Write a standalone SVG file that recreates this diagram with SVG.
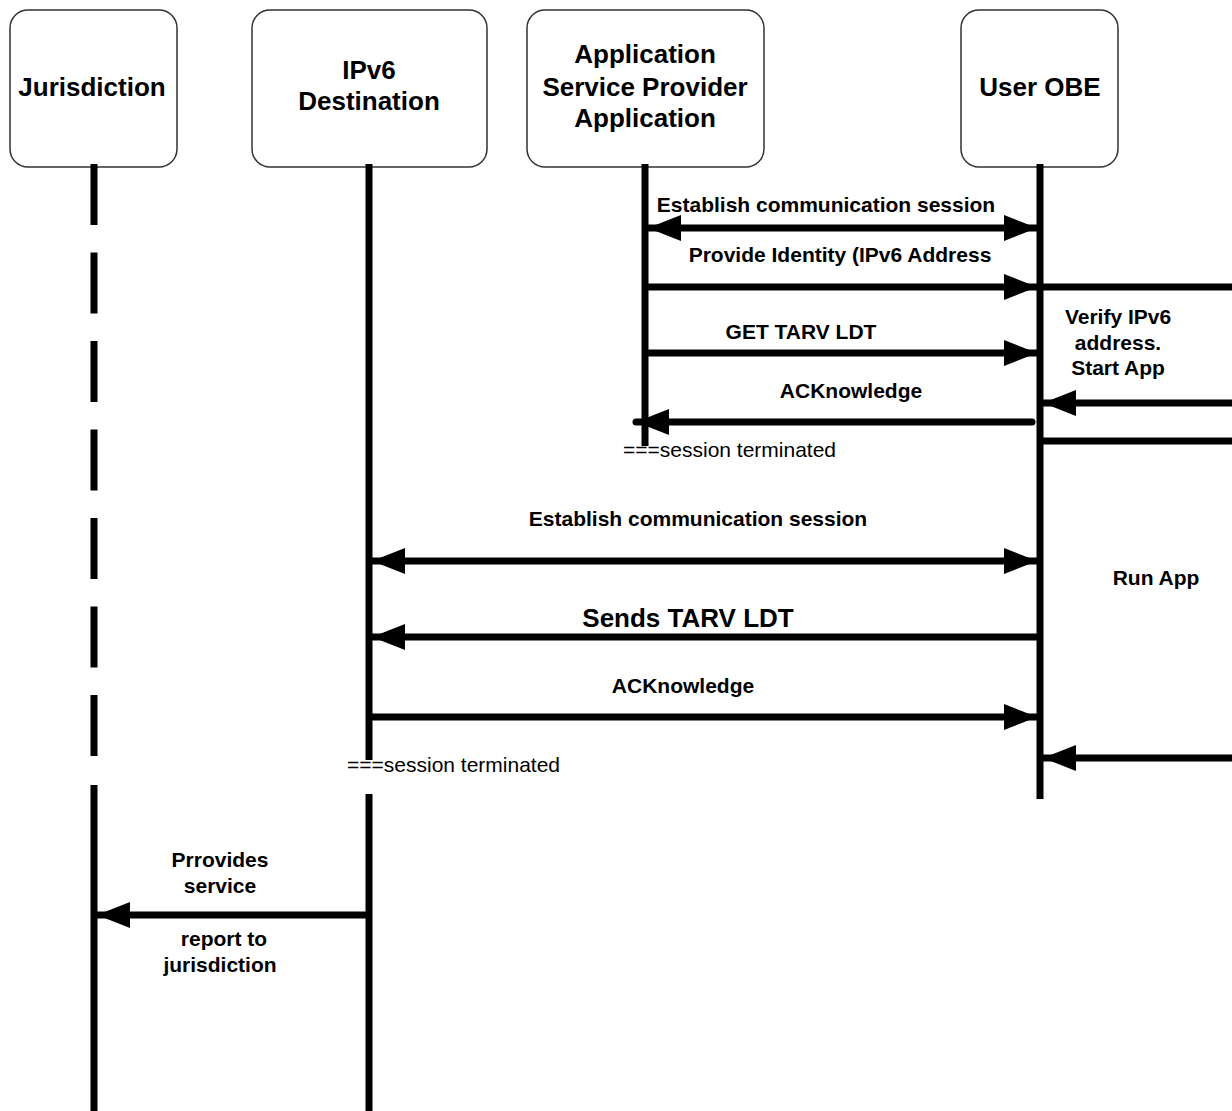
<svg xmlns="http://www.w3.org/2000/svg" width="1232" height="1111" viewBox="0 0 1232 1111">
<style>
.box{fill:#fff;stroke:#333;stroke-width:1.5}
.hd{font-family:"Liberation Sans",Arial,sans-serif;font-weight:bold;font-size:26px;fill:#000;text-anchor:middle}
.lb{font-family:"Liberation Sans",Arial,sans-serif;font-weight:bold;font-size:21px;fill:#000;text-anchor:middle}
.big{font-family:"Liberation Sans",Arial,sans-serif;font-weight:bold;font-size:26px;fill:#000;text-anchor:middle}
.st{font-family:"Liberation Sans",Arial,sans-serif;font-size:21px;fill:#000}
.life{stroke:#000;stroke-width:7;fill:none}
.msg{stroke:#000;stroke-width:7;fill:none}
.arr{marker-end:url(#ah)}
.dbl{marker-start:url(#ah);marker-end:url(#ah)}
</style>
<defs>
<marker id="ah" markerUnits="userSpaceOnUse" markerWidth="34" markerHeight="26" refX="33" refY="13" orient="auto-start-reverse">
<path d="M0,0 L33,13 L0,26 Z" fill="#000"/>
</marker>
</defs>
<rect width="1232" height="1111" fill="#fff"/>

<g id="jurisdiction">
<rect class="box" x="10" y="10" width="167" height="157" rx="18"/>
<text class="hd" x="92" y="96">Jurisdiction</text>
<line class="life" x1="94" y1="164" x2="94" y2="757" stroke-dasharray="61 27.5"/>
<line class="life" x1="94" y1="785" x2="94" y2="1111"/>
</g>

<g id="ipv6-destination">
<rect class="box" x="252" y="10" width="235" height="157" rx="18"/>
<text class="hd" x="369" y="79">IPv6</text>
<text class="hd" x="369" y="110">Destination</text>
<line class="life" x1="369" y1="164" x2="369" y2="760"/>
<line class="life" x1="369" y1="794" x2="369" y2="1111"/>
</g>

<g id="asp-application">
<rect class="box" x="527" y="10" width="237" height="157" rx="18"/>
<text class="hd" x="645" y="63">Application</text>
<text class="hd" x="645" y="96">Service Provider</text>
<text class="hd" x="645" y="127">Application</text>
<line class="life" x1="645" y1="164" x2="645" y2="446"/>
</g>

<g id="user-obe">
<rect class="box" x="961" y="10" width="157" height="157" rx="18"/>
<text class="hd" x="1040" y="96">User OBE</text>
<line class="life" x1="1040" y1="164" x2="1040" y2="799"/>
</g>

<g id="connectors">
<line class="msg dbl" x1="648" y1="228" x2="1037" y2="228"/>
<line class="msg arr" x1="648" y1="287" x2="1037" y2="287"/>
<line class="msg" x1="1040" y1="287" x2="1232" y2="287"/>
<line class="msg arr" x1="648" y1="353" x2="1037" y2="353"/>
<line class="msg arr" x1="1232" y1="403" x2="1043" y2="403"/>
<line class="msg arr" x1="1032" y1="422" x2="636" y2="422" stroke-linecap="round"/>
<line class="msg" x1="1040" y1="441" x2="1232" y2="441"/>
<line class="msg dbl" x1="372" y1="561" x2="1037" y2="561"/>
<line class="msg arr" x1="1037" y1="637" x2="372" y2="637"/>
<line class="msg arr" x1="372" y1="717" x2="1037" y2="717"/>
<line class="msg arr" x1="1232" y1="758" x2="1043" y2="758"/>
<line class="msg arr" x1="366" y1="915" x2="97" y2="915"/>
</g>

<g id="labels">
<text class="lb" x="826" y="212">Establish communication session</text>
<text class="lb" x="840" y="262">Provide Identity (IPv6 Address</text>
<text class="lb" x="801" y="339">GET TARV LDT</text>
<text class="lb" x="851" y="398">ACKnowledge</text>
<text class="st" x="623" y="457">===session terminated</text>
<text class="lb" x="1118" y="324">Verify IPv6</text>
<text class="lb" x="1118" y="350">address.</text>
<text class="lb" x="1118" y="375">Start App</text>
<text class="lb" x="698" y="526">Establish communication session</text>
<text class="lb" x="1156" y="585">Run App</text>
<text class="big" x="688" y="627">Sends TARV LDT</text>
<text class="lb" x="683" y="693">ACKnowledge</text>
<text class="st" x="347" y="772">===session terminated</text>
<text class="lb" x="220" y="867">Prrovides</text>
<text class="lb" x="220" y="893">service</text>
<text class="lb" x="224" y="946">report to</text>
<text class="lb" x="220" y="972">jurisdiction</text>
</g>
</svg>
